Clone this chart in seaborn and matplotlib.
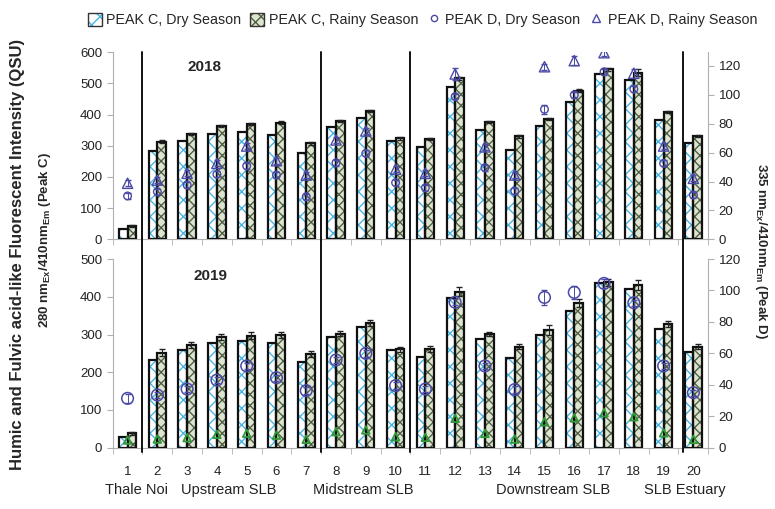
import numpy as np
import pandas as pd
import matplotlib
matplotlib.use('Agg')
import matplotlib.pyplot as plt
import seaborn as sns
from matplotlib.patches import Patch, Rectangle
from matplotlib.lines import Line2D
from matplotlib.transforms import blended_transform_factory

sites = list(range(1, 21))
regions = ['Thale Noi', 'Upstream SLB', 'Midstream SLB', 'Downstream SLB', 'SLB Estuary']
region_centers = [1.3, 4.4, 8.9, 15.3, 19.7]
separators = [1.5, 7.5, 10.5, 19.65]

# 2018 - Peak C (left axis, QSU)
c_dry_2018 = [34, 282, 316, 338, 345, 335, 277, 361, 389, 316, 295, 490, 351, 288, 364, 442, 531, 511, 384, 308]
c_rainy_2018 = [44, 313, 338, 363, 370, 374, 308, 379, 412, 324, 322, 517, 377, 330, 386, 476, 545, 535, 409, 332]
c_rainy_err_2018 = [3, 4, 4, 4, 4, 4, 4, 4, 4, 4, 4, 5, 4, 4, 4, 5, 5, 10, 4, 4]
# 2018 - Peak D (right axis)
d_dry_2018 = [30, 33, 37.6, 45, 50.8, 44.5, 29.5, 53, 59.5, 39.2, 35.7, 98.8, 49.6, 33.4, 90, 100, 116, 104, 52.6, 30.7]
d_rainy_2018 = [38.8, 41, 45.7, 52.6, 64.6, 54.4, 44.5, 68.8, 75, 48.5, 45.7, 114.5, 64, 44.5, 119.5, 123.7, 129.2, 115, 64.6, 42.2]
d_dry_err_2018 = [2, 2, 2, 2, 2, 2, 2, 2, 2, 2, 2, 2, 2, 2, 3, 2, 2, 2, 2, 2]
d_rainy_err_2018 = [2, 2, 2, 2, 2, 2, 2, 2, 2, 2, 2, 4, 2, 2, 2, 3, 2, 3, 2, 2]

# 2019 - Peak C
c_dry_2019 = [29, 232, 259, 277, 284, 277, 226, 294, 319, 259, 241, 398, 287, 237, 300, 363, 437, 420, 314, 253]
c_rainy_2019 = [38, 252, 272, 294, 297, 299, 248, 302, 331, 261, 261, 413, 301, 268, 312, 383, 438, 431, 328, 268]
c_rainy_err_2019 = [3, 9, 7, 8, 9, 7, 8, 7, 8, 7, 8, 12, 6, 6, 12, 10, 10, 14, 8, 7]
# 2019 - Peak D
d_dry_2019 = [31.4, 33.5, 37.3, 43, 52, 44.5, 36.3, 55.8, 60, 39.5, 37.3, 92.5, 52, 37, 95.6, 98.8, 104.5, 92.2, 52, 35]
d_rainy_2019 = [4.9, 5.5, 6.4, 8.5, 9.2, 8, 5.3, 10.2, 11.3, 7, 6.6, 18.7, 9.1, 5.5, 16.5, 19, 22.3, 19.7, 9.5, 5.3]
d_dry_err_2019 = [3, 2, 2, 2, 2, 2, 2, 2, 2, 2, 2, 2, 2, 2, 5, 4, 3, 2, 2, 2]

sns.set_style('ticks')
plt.rcParams['font.family'] = ['Liberation Sans', 'DejaVu Sans']
plt.rcParams['hatch.linewidth'] = 1.0

DRY_HATCH_C = '#48b4e4'
RAINY_FACE = '#dde5d0'
RAINY_HATCH_C = '#4f6044'
D_COLOR = '#4a4aa6'
GREEN = '#2f9a35'
SPINE = '#b0b0b0'

fig = plt.figure(figsize=(7.75, 5.09), dpi=100)
ax_top = fig.add_axes([0.1454, 0.5299, 0.7685, 0.3674])
ax_bot = fig.add_axes([0.1454, 0.1204, 0.7685, 0.3707])


def draw_bars(ax, dry, rainy, rainy_err):
    df = pd.DataFrame({
        'site': sites * 2,
        'value': dry + rainy,
        'season': ['Dry'] * len(sites) + ['Rainy'] * len(sites),
    })
    sns.barplot(data=df, x='site', y='value', hue='season', native_scale=True,
                width=0.58, palette={'Dry': 'white', 'Rainy': RAINY_FACE},
                errorbar=None, legend=False, ax=ax, linewidth=0)
    for p in list(ax.patches):
        xc = p.get_x() + p.get_width() / 2
        if xc < round(xc):
            p.set_hatch('xx')
            p.set_edgecolor(DRY_HATCH_C)
            p.set_facecolor('white')
        else:
            p.set_hatch('xxx')
            p.set_edgecolor(RAINY_HATCH_C)
            p.set_facecolor(RAINY_FACE)
        p.set_linewidth(0)
        ax.add_patch(Rectangle(p.get_xy(), p.get_width(), p.get_height(),
                               fill=False, ec='#111111', lw=1.6, zorder=3))
    ax.errorbar(np.array(sites) + 0.145, rainy, yerr=rainy_err, fmt='none',
                ecolor='#222222', elinewidth=0.8, capsize=2, zorder=4)


def style_axes(ax, ymax, step):
    ax.set_xlim(0.5, 20.5)
    ax.set_ylim(0, ymax)
    ax.set_yticks(np.arange(0, ymax + 1, step))
    ax.set_xticks(sites)
    ax.set_xticks(np.arange(0.5, 21, 1), minor=True)
    ax.tick_params(axis='x', which='major', length=0)
    ax.tick_params(axis='x', which='minor', length=4, color=SPINE, direction='out')
    ax.tick_params(axis='y', length=4, color=SPINE, labelsize=9.5, labelcolor='#222222')
    for s in ['top', 'right']:
        ax.spines[s].set_visible(False)
    for s in ['left', 'bottom']:
        ax.spines[s].set_color(SPINE)
    ax.set_xlabel('')
    ax.set_ylabel('')


# ---- top panel (2018)
draw_bars(ax_top, c_dry_2018, c_rainy_2018, c_rainy_err_2018)
style_axes(ax_top, 600, 100)
ax_top.set_xticklabels([])
ax_top.text(3.57, 554, '2018', fontsize=11, fontweight='bold', ha='center', va='center')

ax_top2 = ax_top.twinx()
ax_top2.errorbar(sites, d_dry_2018, yerr=d_dry_err_2018, fmt='none', ecolor=D_COLOR,
                 elinewidth=0.7, capsize=2)
ax_top2.errorbar(sites, d_rainy_2018, yerr=d_rainy_err_2018, fmt='none', ecolor=D_COLOR,
                 elinewidth=0.7, capsize=2)
sns.scatterplot(x=sites, y=d_dry_2018, marker='o', s=30, ax=ax_top2)
ax_top2.collections[-1].set_facecolor('none')
ax_top2.collections[-1].set_edgecolor(D_COLOR)
ax_top2.collections[-1].set_linewidth(1.0)
sns.scatterplot(x=sites, y=d_rainy_2018, marker='^', s=55, ax=ax_top2)
ax_top2.collections[-1].set_facecolor('none')
ax_top2.collections[-1].set_edgecolor(D_COLOR)
ax_top2.collections[-1].set_linewidth(1.0)
ax_top2.set_ylim(0, 129.5)
ax_top2.set_yticks(np.arange(0, 121, 20))

# ---- bottom panel (2019)
draw_bars(ax_bot, c_dry_2019, c_rainy_2019, c_rainy_err_2019)
style_axes(ax_bot, 500, 100)
ax_bot.set_xticklabels([str(s) for s in sites], fontsize=9.5, color='#222222')
ax_bot.tick_params(axis='x', which='major', pad=13)
ax_bot.text(3.8, 455, '2019', fontsize=11, fontweight='bold', ha='center', va='center')

ax_bot2 = ax_bot.twinx()
ax_bot2.errorbar(sites, d_dry_2019, yerr=d_dry_err_2019, fmt='none', ecolor=D_COLOR,
                 elinewidth=0.7, capsize=2.5)
sns.scatterplot(x=sites, y=d_dry_2019, marker='o', s=70, ax=ax_bot2)
ax_bot2.collections[-1].set_facecolor('none')
ax_bot2.collections[-1].set_edgecolor(D_COLOR)
ax_bot2.collections[-1].set_linewidth(1.1)
sns.scatterplot(x=sites, y=d_rainy_2019, marker='^', s=30, ax=ax_bot2)
ax_bot2.collections[-1].set_facecolor('none')
ax_bot2.collections[-1].set_edgecolor(GREEN)
ax_bot2.collections[-1].set_linewidth(1.3)
ax_bot2.set_ylim(0, 120)
ax_bot2.set_yticks(np.arange(0, 121, 20))

for a in [ax_top2, ax_bot2]:
    a.set_xlim(0.5, 20.5)
    a.set_ylabel('')
    for s in ['top', 'left', 'bottom']:
        a.spines[s].set_visible(False)
    a.spines['right'].set_color(SPINE)
    a.tick_params(axis='y', length=4, color=SPINE, labelsize=9.5, labelcolor='#222222')

# region separators across both panels
trans = blended_transform_factory(ax_top.transData, fig.transFigure)
for xs in separators:
    fig.add_artist(Line2D([xs, xs], [0.112, 0.898], transform=trans, color='#111111', lw=1.4))

# region names
for name, xc in zip(regions, region_centers):
    fig.text(0, 0.037, name, transform=trans, fontsize=10.5, ha='center', va='center',
             color='#222222').set_x(xc)

# axis labels
fig.text(0.023, 0.5, 'Humic and Fulvic acid-like Fluorescent Intensity (QSU)',
         rotation=90, fontsize=12, fontweight='bold', ha='center', va='center')
fig.text(0.058, 0.528, r'280 nm$_{\mathregular{Ex}}$/410nm$_{\mathregular{Em}}$ (Peak C)',
         rotation=90, fontsize=9.5, fontweight='bold', ha='center', va='center')
fig.text(0.982, 0.507, r'335 nm$_{\mathregular{Ex}}$/410nm$_{\mathregular{Em}}$ (Peak D)',
         rotation=270, fontsize=9.5, fontweight='bold', ha='center', va='center')

# legend
handles = [
    (Patch(facecolor='white', edgecolor=DRY_HATCH_C, hatch='xx', lw=0),
     Patch(fill=False, edgecolor='#333333', lw=1)),
    (Patch(facecolor=RAINY_FACE, edgecolor=RAINY_HATCH_C, hatch='xxx', lw=0),
     Patch(fill=False, edgecolor='#333333', lw=1)),
    Line2D([], [], marker='o', ls='none', mfc='none', mec=D_COLOR, ms=4.5, mew=1),
    Line2D([], [], marker='^', ls='none', mfc='none', mec=D_COLOR, ms=6, mew=1),
]
labels = ['PEAK C, Dry Season', 'PEAK C, Rainy Season', 'PEAK D, Dry Season', 'PEAK D, Rainy Season']
fig.legend(handles, labels, loc='center', bbox_to_anchor=(0.545, 0.961), ncol=4,
           frameon=False, fontsize=10.3, handlelength=1.0, handleheight=1.0,
           handletextpad=0.3, columnspacing=0.6)

fig.savefig('out.png', dpi=100)
